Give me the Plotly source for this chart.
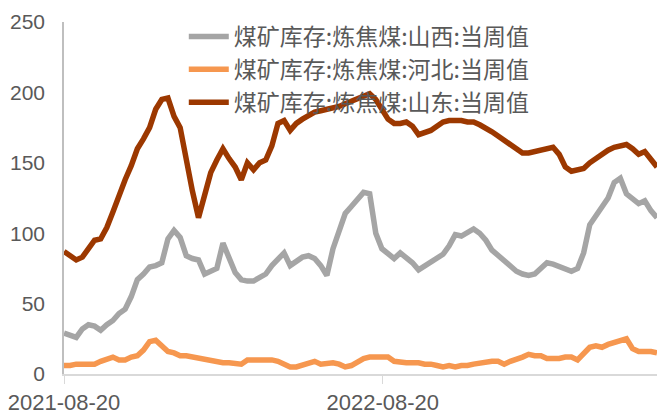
import pandas as pd
import plotly.graph_objects as go

start_date = "2021-08-20"
n_weeks = 98
dates = pd.date_range(start_date, periods=n_weeks, freq="7D")

series_names = ["煤矿库存:炼焦煤:山西:当周值", "煤矿库存:炼焦煤:河北:当周值", "煤矿库存:炼焦煤:山东:当周值"]

shanxi = [29, 28, 26, 32, 35, 34, 31, 35, 38, 43, 46, 55, 67, 71, 76, 77, 79, 96, 102, 97,
          84, 82, 81, 71, 73, 75, 93, 82, 72, 67, 66, 66, 68, 71, 77, 81, 86, 77, 80, 83,
          84, 82, 77, 70, 89, 103, 114, 119, 124, 129, 128, 100, 89, 86, 82, 86, 83, 79, 74, 77,
          80, 83, 85, 91, 99, 98, 101, 103, 100, 95, 88, 84, 81, 77, 73, 71, 70, 71, 75, 79,
          78, 76, 74, 73, 75, 86, 106, 112, 119, 125, 136, 139, 128, 125, 121, 123, 116, 111]

hebei = [6, 6, 7, 7, 7, 7, 9, 11, 12, 10, 10, 12, 13, 17, 23, 24, 20, 16, 15, 13,
         13, 12, 11, 10, 9, 8, 8, 8, 7, 7, 10, 10, 10, 10, 10, 9, 7, 5, 5, 6,
         7, 9, 7, 8, 8, 7, 5, 6, 9, 11, 12, 12, 12, 12, 9, 8, 8, 8, 8, 7,
         7, 6, 5, 6, 5, 6, 6, 7, 8, 8, 9, 9, 7, 9, 10, 12, 14, 13, 13, 11,
         11, 11, 12, 12, 10, 14, 19, 20, 19, 21, 22, 24, 25, 18, 16, 16, 16, 15]

shandong = [87, 84, 81, 83, 89, 95, 96, 104, 115, 128, 138, 148, 160, 167, 175, 188, 195, 196, 183, 175,
            150, 130, 111, 129, 143, 152, 160, 153, 147, 138, 150, 145, 150, 152, 162, 178, 180, 173, 178, 181,
            184, 186, 187, 188, 189, 190, 192, 194, 196, 198, 199, 195, 188, 181, 178, 178, 179, 176, 170, 171,
            173, 176, 179, 180, 180, 180, 179, 179, 177, 175, 172, 169, 166, 163, 160, 157, 157, 158, 159, 160,
            161, 156, 147, 144, 145, 146, 150, 153, 157, 159, 161, 162, 163, 160, 156, 158, 153, 147]

x_tick_vals = ["2021-08-20", "2022-08-20"]
y_tick_vals = [0, 50, 100, 150, 200, 250]

colors = ["#A5A5A5", "#F6974F", "#9C3800"]
values = [shanxi, hebei, shandong]

fig = go.Figure()
for name, vals, col in zip(series_names, values, colors):
    fig.add_trace(go.Scatter(x=dates, y=vals, mode="lines", name=name,
                             line=dict(color=col, width=5.5)))

fig.update_layout(
    width=659, height=414,
    margin=dict(l=64, r=2, t=22, b=40),
    paper_bgcolor="white", plot_bgcolor="white",
    showlegend=True,
    legend=dict(x=0.202, y=1.02, xanchor="left", yanchor="top",
                bgcolor="rgba(0,0,0,0)",
                font=dict(family="Noto Sans CJK SC", size=23, color="#595959"),
                tracegroupgap=0, itemwidth=40),
    font=dict(family="Liberation Sans", color="#595959"),
)
fig.update_xaxes(
    type="date", automargin=False,
    range=[dates[0], dates[-1]],
    tickvals=x_tick_vals, tickformat="%Y-%m-%d",
    showline=True, linecolor="#D9D9D9", linewidth=1.5,
    ticks="outside", ticklen=8, tickcolor="#D9D9D9",
    showgrid=False, zeroline=False,
    tickfont=dict(size=22, color="#595959"),
)
fig.update_yaxes(
    range=[0, 250], tickvals=y_tick_vals, automargin=False,
    showline=True, linecolor="#BFBFBF", linewidth=1.5,
    ticks="", showgrid=False, zeroline=False,
    tickfont=dict(size=21, color="#595959"),
    ticklabelstandoff=13,
)

fig.write_html("out.html", config={"displayModeBar": False},
               post_script="document.body.style.margin='0px';document.body.style.overflow='hidden';")
